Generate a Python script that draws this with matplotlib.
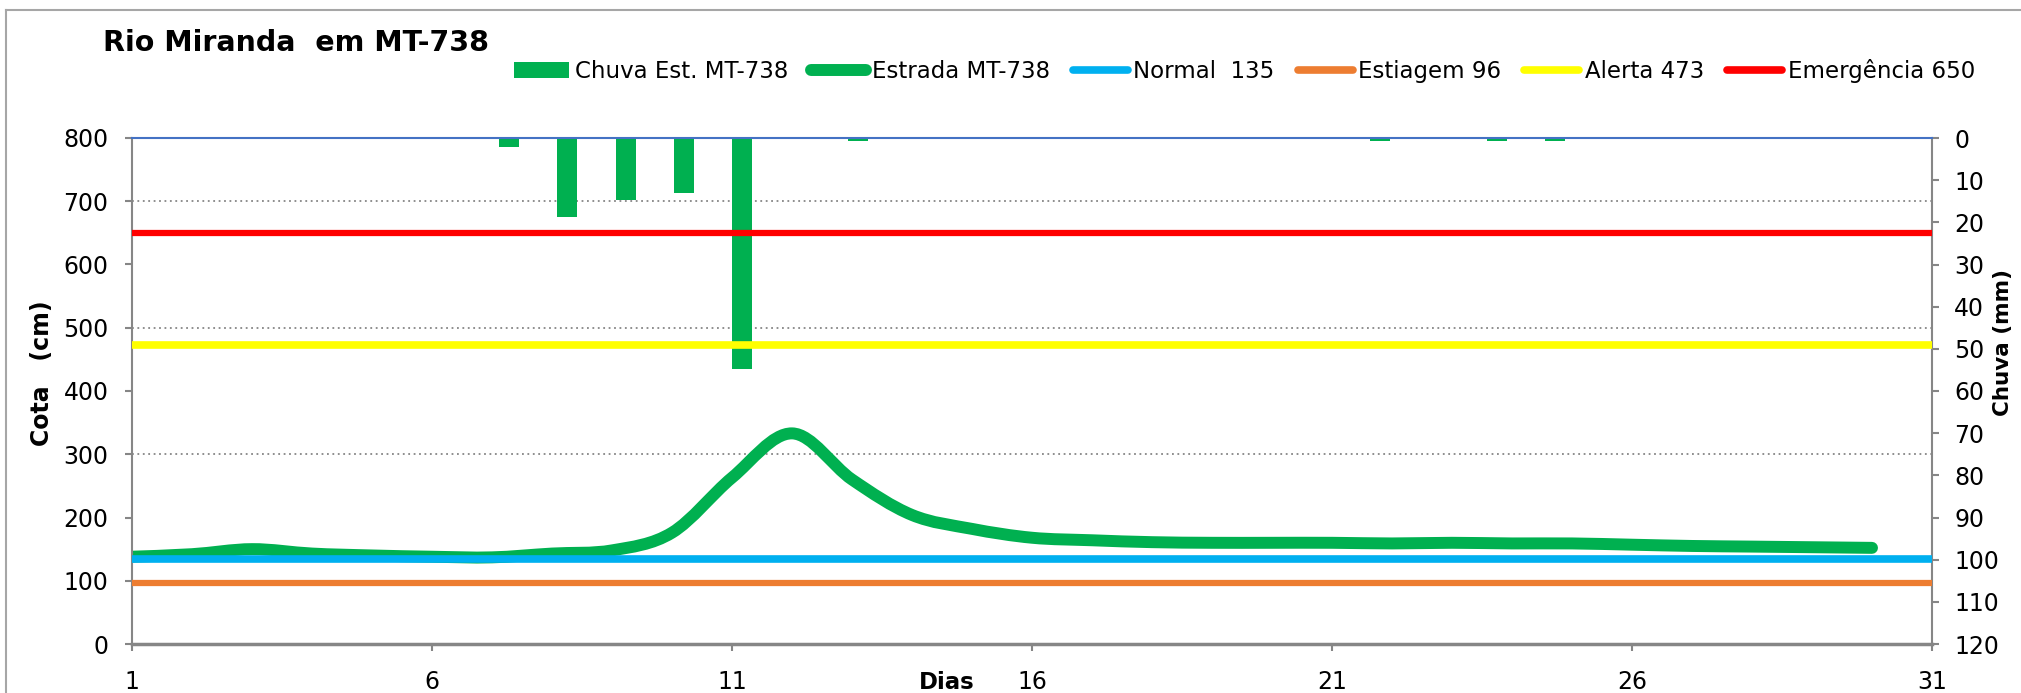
import numpy as np
import matplotlib
matplotlib.use("Agg")
import matplotlib.pyplot as plt
from matplotlib.path import Path
from matplotlib.patches import PathPatch, Patch
from matplotlib.lines import Line2D

plt.rcParams["font.family"] = ["DejaVu Sans"]

# river level (cm), days 1..30
days = np.arange(1, 31)
cota = [138, 142, 150, 143, 140, 138, 137, 143, 148, 176,
        263, 333, 260, 204, 182, 168, 164, 161, 160, 160,
        160, 159, 160, 159, 159, 157, 155, 154, 153, 152]

# rain (mm), 31 categories
chuva_days = np.arange(1, 32)
chuva = [0, 0, 0.2, 0.2, 0.2, 0, 2.2, 18.8, 14.6, 13.1,
         54.7, 0.2, 0.8, 0.2, 0, 0.2, 0.2, 0.2, 0, 0,
         0, 0.8, 0.2, 0.8, 0.8, 0, 0.2, 0, 0, 0, 0]

normal = 135
estiagem = 96
alerta = 473
emergencia = 650

x_ticks = [1, 6, 11, 16, 21, 26, 31]
cota_ticks = list(range(0, 801, 100))
chuva_ticks = list(range(0, 121, 10))

GREEN = "#00B050"
BLUE = "#00B0F0"
ORANGE = "#ED7D31"
YELLOW = "#FFFF00"
RED = "#FF0000"
GREY = "#868686"

W, H = 2021, 693


def smooth_path(x, y):
    # excel style smoothed line: cubic bezier segments through every point
    x = np.asarray(x, float)
    y = np.asarray(y, float)
    px = np.concatenate([[x[0]], x, [x[-1]]])
    py = np.concatenate([[y[0]], y, [y[-1]]])
    verts = [(x[0], y[0])]
    codes = [Path.MOVETO]
    for i in range(len(x) - 1):
        c1 = (px[i + 1] + (px[i + 2] - px[i]) / 6, py[i + 1] + (py[i + 2] - py[i]) / 6)
        c2 = (px[i + 2] - (px[i + 3] - px[i + 1]) / 6, py[i + 2] - (py[i + 3] - py[i + 1]) / 6)
        verts += [c1, c2, (x[i + 1], y[i + 1])]
        codes += [Path.CURVE4] * 3
    return Path(verts, codes)


fig = plt.figure(figsize=(W / 100, H / 100), dpi=100)
left, right, bottom, top = 132, 1932, 644, 138
ax = fig.add_axes([left / W, 1 - bottom / H, (right - left) / W, (bottom - top) / H])
ax2 = ax.twinx()
ax.set_zorder(ax2.get_zorder() + 1)
ax.patch.set_visible(False)

# rain bars on the secondary axis (inverted)
n = len(chuva_days)
bar_x = 1 + (chuva_days - 0.5) * (x_ticks[-1] - x_ticks[0]) / n
ax2.bar(bar_x, chuva, width=0.333, color=GREEN, zorder=1)
ax2.set_ylim(120, 0)
ax2.set_yticks(chuva_ticks)
# dotted grid aligned with the cota ticks, drawn under the bars
grid_pos = [(800 - c) * 120 / 800 for c in cota_ticks[1:-1]]
ax2.set_yticks(grid_pos, minor=True)
ax2.grid(which="minor", axis="y", color=GREY, linestyle=(0, (1, 2)), linewidth=1.3)
ax2.set_axisbelow(True)
ax2.tick_params(axis="y", which="minor", length=0)
ax2.tick_params(axis="y", which="major", direction="out", length=5, width=1.5,
                color=GREY, labelsize=17, pad=11)
for s in ["top", "left", "bottom"]:
    ax2.spines[s].set_visible(False)
ax2.spines["right"].set_color(GREY)
ax2.spines["right"].set_linewidth(1.5)
ax2.set_ylabel("Chuva (mm)", fontsize=15.5, fontweight="bold")
ax2.yaxis.set_label_coords((1993 - left) / (right - left), (bottom - 342) / (bottom - top))

# level line and reference lines
ax.add_patch(PathPatch(smooth_path(days, cota), fill=False, edgecolor=GREEN,
                       linewidth=8.6, capstyle="round", joinstyle="round", zorder=2))
ax.axhline(normal, color=BLUE, linewidth=5.5, zorder=3)
ax.axhline(estiagem, color=ORANGE, linewidth=4.5, zorder=3)
ax.axhline(alerta, color=YELLOW, linewidth=5.5, zorder=3)
ax.axhline(emergencia, color=RED, linewidth=4.5, zorder=3)

ax.set_xlim(x_ticks[0], x_ticks[-1])
ax.set_ylim(0, 800)
ax.set_xticks(x_ticks)
ax.set_yticks(cota_ticks)
ax.tick_params(axis="y", direction="out", length=5, width=1.5, color=GREY,
               labelsize=17, pad=12)
ax.tick_params(axis="x", direction="out", length=5, width=1.5, color=GREY,
               labelsize=17, pad=14)
ax.spines["right"].set_visible(False)
ax.spines["top"].set_color("#4472C4")
ax.spines["top"].set_linewidth(1.5)
ax.spines["left"].set_color(GREY)
ax.spines["left"].set_linewidth(1.5)
ax.spines["bottom"].set_color(GREY)
ax.spines["bottom"].set_linewidth(2.5)

ax.set_ylabel("Cota   (cm)", fontsize=17, fontweight="bold")
ax.yaxis.set_label_coords((54 - left) / (right - left), (bottom - 373) / (bottom - top))
ax.set_xlabel("Dias", fontsize=16.5, fontweight="bold")
ax.xaxis.set_label_coords((947 - left) / (right - left), (bottom - 671) / (bottom - top))

fig.text(103 / W, 1 - 51 / H, "Rio Miranda  em MT-738", fontsize=20.5,
         fontweight="bold", va="baseline")

handles = [
    Patch(facecolor=GREEN),
    Line2D([], [], color=GREEN, linewidth=8.6, solid_capstyle="round"),
    Line2D([], [], color=BLUE, linewidth=5.5, solid_capstyle="round"),
    Line2D([], [], color=ORANGE, linewidth=5.5, solid_capstyle="round"),
    Line2D([], [], color=YELLOW, linewidth=5.5, solid_capstyle="round"),
    Line2D([], [], color=RED, linewidth=5.5, solid_capstyle="round"),
]
labels = ["Chuva Est. MT-738", "Estrada MT-738", f"Normal  {normal}",
          f"Estiagem {estiagem}", f"Alerta {alerta}", f"Emergência {emergencia}"]
ax.legend(handles, labels, loc="center", bbox_to_anchor=((509 + 1980) / 2 / W, 1 - 71 / H),
          bbox_transform=fig.transFigure, ncol=6, frameon=False, fontsize=16.5,
          handlelength=2.4, handletextpad=0.25, columnspacing=1.0, borderpad=0)

# chart area border
fig.add_artist(Line2D([6 / W, 6 / W], [0, 1 - 10 / H], transform=fig.transFigure,
                      color="#A6A6A6", linewidth=1.5))
fig.add_artist(Line2D([6 / W, 1], [1 - 10 / H, 1 - 10 / H], transform=fig.transFigure,
                      color="#A6A6A6", linewidth=1.5))

fig.savefig("out.png", dpi=100)
